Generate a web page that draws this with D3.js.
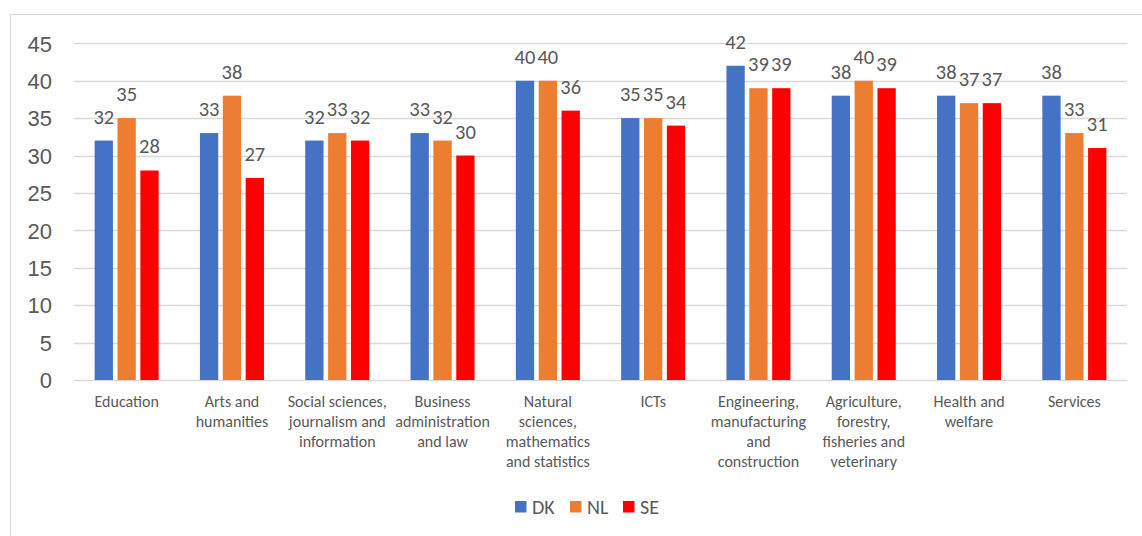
<!DOCTYPE html>
<html>
<head>
<meta charset="utf-8">
<script src="https://cdn.jsdelivr.net/npm/d3@7"></script>
<style>
  html, body { margin: 0; padding: 0; background: #fff; }
  svg { display: block; font-family: Carlito, Calibri, Lato, "Open Sans", sans-serif; }
</style>
</head>
<body>
<svg id="chart" width="1142" height="536"></svg>
<script>
// Field of education (labels split into display lines)
const categories = [
  "Education",
  "Arts and humanities",
  "Social sciences, journalism and information",
  "Business administration and law",
  "Natural sciences, mathematics and statistics",
  "ICTs",
  "Engineering, manufacturing and construction",
  "Agriculture, forestry, fisheries and veterinary",
  "Health and welfare",
  "Services"
];
const categoryLines = [
  ["Education"],
  ["Arts and", "humanities"],
  ["Social sciences,", "journalism and", "information"],
  ["Business", "administration", "and law"],
  ["Natural", "sciences,", "mathematics", "and statistics"],
  ["ICTs"],
  ["Engineering,", "manufacturing", "and", "construction"],
  ["Agriculture,", "forestry,", "fisheries and", "veterinary"],
  ["Health and", "welfare"],
  ["Services"]
];
const seriesNames = ["DK", "NL", "SE"];
const seriesColors = ["#4472C4", "#ED7D31", "#FF0000"];
const valuesDK = [32, 33, 32, 33, 40, 35, 42, 38, 38, 38];
const valuesNL = [35, 38, 33, 32, 40, 35, 39, 40, 37, 33];
const valuesSE = [28, 27, 32, 30, 36, 34, 39, 39, 37, 31];
const yTicks = [0, 5, 10, 15, 20, 25, 30, 35, 40, 45];

const series = [valuesDK, valuesNL, valuesSE];
const textColor = "#595959";
const gridColor = "#D9D9D9";

const svg = d3.select("#chart");

// Outer chart frame
svg.append("rect")
  .attr("x", 10.5).attr("y", 14.5)
  .attr("width", 1140).attr("height", 530)
  .attr("fill", "none").attr("stroke", gridColor).attr("stroke-width", 1);

const plotLeft = 74, plotRight = 1127, plotTop = 43.3, plotBottom = 380;

const y = d3.scaleLinear().domain([0, 45]).range([plotBottom, plotTop]);
const x = d3.scaleBand().domain(categories).range([plotLeft, plotRight])
  .paddingInner(0.392).paddingOuter(0.196);
const xs = d3.scaleBand().domain(seriesNames).range([0, x.bandwidth()]).paddingInner(0.2);

// Horizontal gridlines
svg.append("g").selectAll("line").data(yTicks).join("line")
  .attr("x1", plotLeft).attr("x2", plotRight)
  .attr("y1", d => Math.round(y(d)) + 0.5).attr("y2", d => Math.round(y(d)) + 0.5)
  .attr("stroke", gridColor).attr("stroke-width", 1.3);

// Y axis tick labels
const yAxis = d3.axisLeft(y).tickValues(yTicks).tickSize(0).tickPadding(0);
const yg = svg.append("g").attr("transform", `translate(52,0)`).call(yAxis);
yg.select(".domain").remove();
yg.selectAll("text")
  .attr("fill", textColor).style("font-size", "22px")
  .attr("dy", "0.35em").attr("x", 0);

// Bars with value labels
const groups = svg.append("g").selectAll("g").data(categories).join("g")
  .attr("transform", d => `translate(${x(d)},0)`);

groups.each(function(cat, ci) {
  const g = d3.select(this);
  seriesNames.forEach((s, si) => {
    const v = series[si][ci];
    g.append("rect")
      .attr("x", xs(s)).attr("width", xs.bandwidth())
      .attr("y", y(v)).attr("height", y(0) - y(v))
      .attr("fill", seriesColors[si]);
    g.append("text")
      .attr("x", xs(s) + xs.bandwidth() / 2)
      .attr("y", y(v) - 17)
      .attr("text-anchor", "middle")
      .attr("fill", textColor)
      .style("font-size", "20.5px")
      .text(v);
  });
});

// Category labels
const xl = svg.append("g").selectAll("text").data(categories).join("text")
  .attr("text-anchor", "middle")
  .attr("fill", textColor)
  .style("font-size", "16px")
  .attr("transform", d => `translate(${x(d) + x.bandwidth() / 2},407)`);
xl.each(function(d, i) {
  d3.select(this).selectAll("tspan").data(categoryLines[i]).join("tspan")
    .attr("x", 0).attr("y", (t, j) => j * 20)
    .text(t => t);
});

// Legend
const legendX = [515, 570, 623];
const legend = svg.append("g").selectAll("g").data(seriesNames).join("g")
  .attr("transform", (d, i) => `translate(${legendX[i]},501)`);
legend.append("rect").attr("width", 11.5).attr("height", 11.5)
  .attr("fill", (d, i) => seriesColors[i]);
legend.append("text").attr("x", 17).attr("y", 12.5)
  .attr("fill", textColor).style("font-size", "20px")
  .text(d => d);
</script>
</body>
</html>
